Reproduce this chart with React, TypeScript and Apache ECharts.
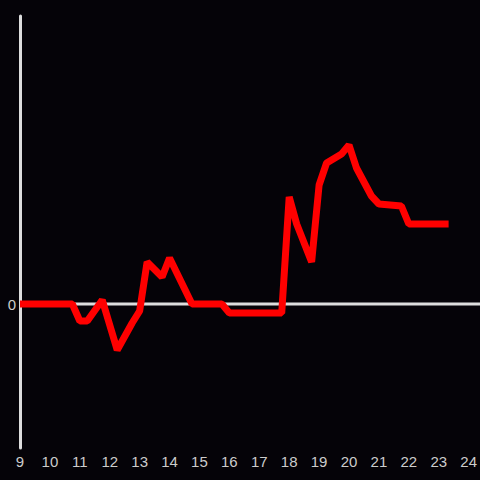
import React, { useEffect, useRef } from "react";
import * as echarts from "echarts";

const hours = [9, 10.75, 11, 11.25, 11.75, 12.25, 12.75, 13, 13.25, 13.75, 14, 14.75, 15.75, 16, 17.75, 18, 18.25, 18.75, 19, 19.25, 19.75, 20, 20.25, 20.75, 21, 21.75, 22, 23.33];
const values = [0, 0, -17, -17, 4, -46, -19, -7, 42, 27, 46, 0, 0, -9, -9, 107, 80, 42, 119, 141, 150, 159, 136, 108, 100, 98, 80, 80];
const xTicks = [9, 10, 11, 12, 13, 14, 15, 16, 17, 18, 19, 20, 21, 22, 23, 24];

export default function App() {
  const ref = useRef<HTMLDivElement>(null);
  useEffect(() => {
    const chart = echarts.init(ref.current!, null, { renderer: "svg", width: 480, height: 480 });
    chart.setOption({
      animation: false,
      backgroundColor: "#050308",
      grid: { left: 20, right: 10, top: 16, bottom: 32 },
      xAxis: {
        type: "value",
        min: 9,
        max: 24,
        interval: 1,
        axisLine: { show: false },
        axisTick: { show: false },
        splitLine: { show: false },
        axisLabel: {
          color: "#cccccc",
          fontSize: 15,
          margin: 6,
          formatter: (v: number) => (xTicks.includes(v) ? String(v) : ""),
        },
      },
      yAxis: {
        type: "value",
        min: -144,
        max: 288,
        interval: 144,
        axisLine: { show: true, onZero: false, lineStyle: { color: "#dddddd", width: 3 } },
        axisTick: { show: false },
        splitLine: { show: false },
        axisLabel: {
          color: "#cccccc",
          fontSize: 15,
          margin: 4,
          formatter: (v: number) => (v === 0 ? "0" : ""),
        },
      },
      series: [
        {
          type: "line",
          data: hours.map((h, i) => [h, values[i]]),
          showSymbol: false,
          lineStyle: { color: "#ff0000", width: 7 },
          z: 3,
        },
      ],
    });
    const [x0, y0] = chart.convertToPixel({ gridIndex: 0 }, [9, 0]) as number[];
    chart.setOption({
      graphic: [
        {
          type: "line",
          z: 1,
          silent: true,
          shape: { x1: x0, y1: y0, x2: 480, y2: y0 },
          style: { stroke: "#dddddd", lineWidth: 3 },
        },
      ],
    });
    return () => chart.dispose();
  }, []);
  return <div ref={ref} style={{ width: 480, height: 480, position: "fixed", left: 0, top: 0 }} />;
}
